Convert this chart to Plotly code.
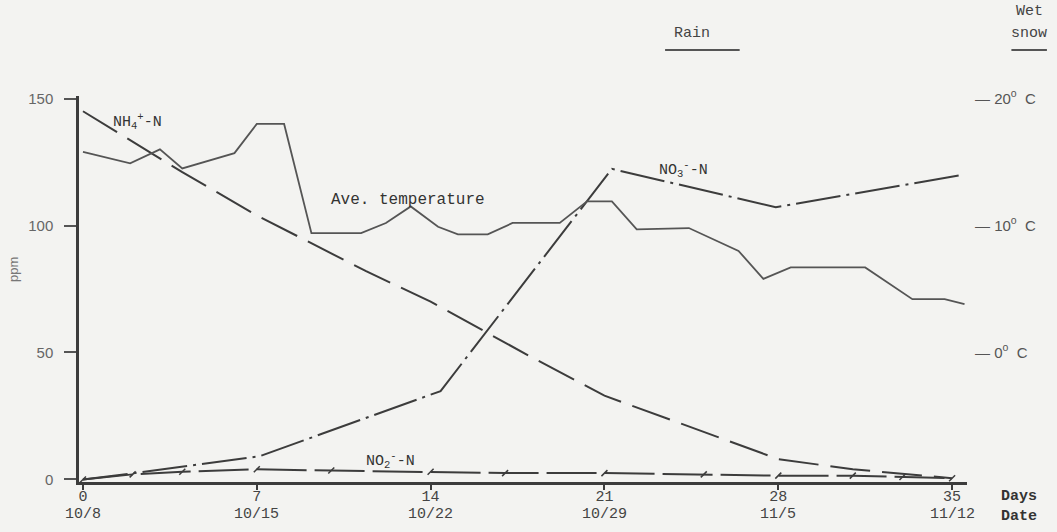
import plotly.graph_objects as go

# ---- data ----
day_ticks = [0, 7, 14, 21, 28, 35]
date_labels = ["10/8", "10/15", "10/22", "10/29", "11/5", "11/12"]

temp_days = [0, 1.9, 3.1, 4.0, 6.1, 7.0, 8.1, 9.2, 11.2, 12.2, 13.2, 14.3, 15.1,
             16.3, 17.3, 19.2, 20.3, 21.3, 22.3, 24.4, 26.4, 27.4, 28.5, 31.5,
             33.4, 34.7, 35.5]
temp_c = [15.8, 14.9, 16.0, 14.5, 15.7, 18.0, 18.0, 9.4, 9.4, 10.2, 11.5, 9.9, 9.3,
          9.3, 10.2, 10.2, 11.9, 11.9, 9.7, 9.8, 8.0, 5.8, 6.7, 6.7,
          4.2, 4.2, 3.8]

nh4_days = [0, 4, 7, 11.4, 14, 18, 21, 23.5, 28, 31, 35]
nh4_ppm = [145, 121, 104, 82, 70, 48.5, 33, 24, 8, 4, 0.5]

no3_days = [0, 2, 7.1, 14.4, 21.3, 27.9, 35.4]
no3_ppm = [0, 2.4, 9.1, 34.8, 122.3, 107.2, 119.9]

no2_days = [0, 2, 4, 7, 10, 14, 17, 21, 25, 28, 31, 33, 35]
no2_ppm = [0, 2, 3, 4, 3.5, 3, 2.5, 2.5, 2, 1.5, 1.5, 1, 0.5]

ppm_ticks = [0, 50, 100, 150]
temp_ticks = [0, 10, 20]

# ---- styling ----
INK = "#3c3c3c"
BG = "#f3f3f1"
MONO = "Liberation Mono"
SANS = "Liberation Sans"

fig = go.Figure()

fig.add_trace(go.Scatter(x=temp_days, y=temp_c, yaxis="y2", mode="lines",
                         line=dict(color="#555555", width=1.8), showlegend=False))
fig.add_trace(go.Scatter(x=nh4_days, y=nh4_ppm, mode="lines",
                         line=dict(color=INK, width=2, dash="40px,12px"),
                         showlegend=False))
fig.add_trace(go.Scatter(x=no3_days, y=no3_ppm, mode="lines",
                         line=dict(color=INK, width=2, dash="45px,6px,3px,6px"),
                         showlegend=False))
fig.add_trace(go.Scatter(x=no2_days, y=no2_ppm, mode="lines+markers",
                         line=dict(color=INK, width=2, dash="50px,8px"),
                         marker=dict(symbol="line-ne", size=6,
                                     line=dict(color=INK, width=1.5)),
                         showlegend=False))

# ppm range [-1, 151]; temp = (ppm - 50) / 5
y_lo, y_hi = -1, 151

fig.update_layout(
    width=1057, height=532,
    margin=dict(l=79, r=90, t=96, b=50),
    paper_bgcolor=BG, plot_bgcolor=BG,
    xaxis=dict(range=[-0.16, 35.6], showgrid=False, zeroline=False,
               automargin=False,
               showline=True, linecolor=INK, linewidth=2.5,
               ticks="outside", ticklen=5, tickcolor=INK, tickwidth=1.5,
               tickvals=day_ticks,
               ticktext=[str(d) for d in day_ticks],
               tickfont=dict(family=MONO, size=15, color="#444"),
               ticklabelstandoff=-7),
    yaxis=dict(range=[y_lo, y_hi], showgrid=False, zeroline=False,
               automargin=False,
               showline=True, linecolor=INK, linewidth=2.5,
               ticks="outside", ticklen=12, tickcolor="#555", tickwidth=1.5,
               tickvals=ppm_ticks,
               tickfont=dict(family=SANS, size=15, color="#666"),
               ticklabelstandoff=8),
    yaxis2=dict(range=[(y_lo - 50) / 5, (y_hi - 50) / 5], overlaying="y",
                side="right", showgrid=False, zeroline=False, showline=False,
                automargin=False,
                ticks="", tickvals=temp_ticks,
                ticktext=[f"\u2014 {t}<sup>o</sup>  C" for t in temp_ticks],
                tickfont=dict(family=SANS, size=15, color="#555"),
                ticklabelstandoff=7),
)

# date labels under the day ticks
for d, s in zip(day_ticks, date_labels):
    fig.add_annotation(x=d, xref="x", yref="paper", y=-0.083, text=s,
                       xanchor="center", yanchor="middle", showarrow=False,
                       font=dict(family=MONO, size=15, color="#444"))

ann_font = dict(family=MONO, size=15, color="#333")
fig.add_annotation(x=2.2, y=141, text="NH<sub>4</sub><sup>+</sup>-N",
                   showarrow=False, font=ann_font)
fig.add_annotation(x=13.1, y=110, text="Ave. temperature",
                   showarrow=False, font=dict(family=MONO, size=16, color="#333"))
fig.add_annotation(x=24.2, y=122, text="NO<sub>3</sub><sup>-</sup>-N",
                   showarrow=False, font=ann_font)
fig.add_annotation(x=12.4, y=7.5, text="NO<sub>2</sub><sup>-</sup>-N",
                   showarrow=False, font=ann_font)

fig.add_annotation(xref="paper", yref="paper", x=-0.074, y=0.55,
                   xanchor="center", yanchor="middle",
                   text="ppm", textangle=-90, showarrow=False,
                   font=dict(family=SANS, size=13, color="#777"))

# weather notes above the plot
top_font = dict(family=MONO, size=15, color="#444")
fig.add_annotation(xref="paper", yref="paper", x=0.69, y=1.163, text="Rain",
                   xanchor="center", yanchor="middle",
                   showarrow=False, font=top_font)
fig.add_shape(type="line", xref="paper", yref="paper", x0=0.66, x1=0.744,
              y0=1.119, y1=1.119, line=dict(color="#555", width=2))
fig.add_annotation(xref="paper", yref="paper", x=1.07, y=1.218, text="Wet",
                   xanchor="center", yanchor="middle",
                   showarrow=False, font=top_font)
fig.add_annotation(xref="paper", yref="paper", x=1.07, y=1.163, text="snow",
                   xanchor="center", yanchor="middle",
                   showarrow=False, font=top_font)
fig.add_shape(type="line", xref="paper", yref="paper", x0=1.05, x1=1.09,
              y0=1.119, y1=1.119, line=dict(color="#555", width=2))

fig.add_annotation(xref="paper", yref="paper", x=1.036, y=-0.01,
                   xanchor="left", yanchor="top", align="left",
                   text="<b>Days</b><br><b>Date</b>", showarrow=False,
                   font=dict(family=MONO, size=15, color="#333"))

fig.write_html("out.html")
